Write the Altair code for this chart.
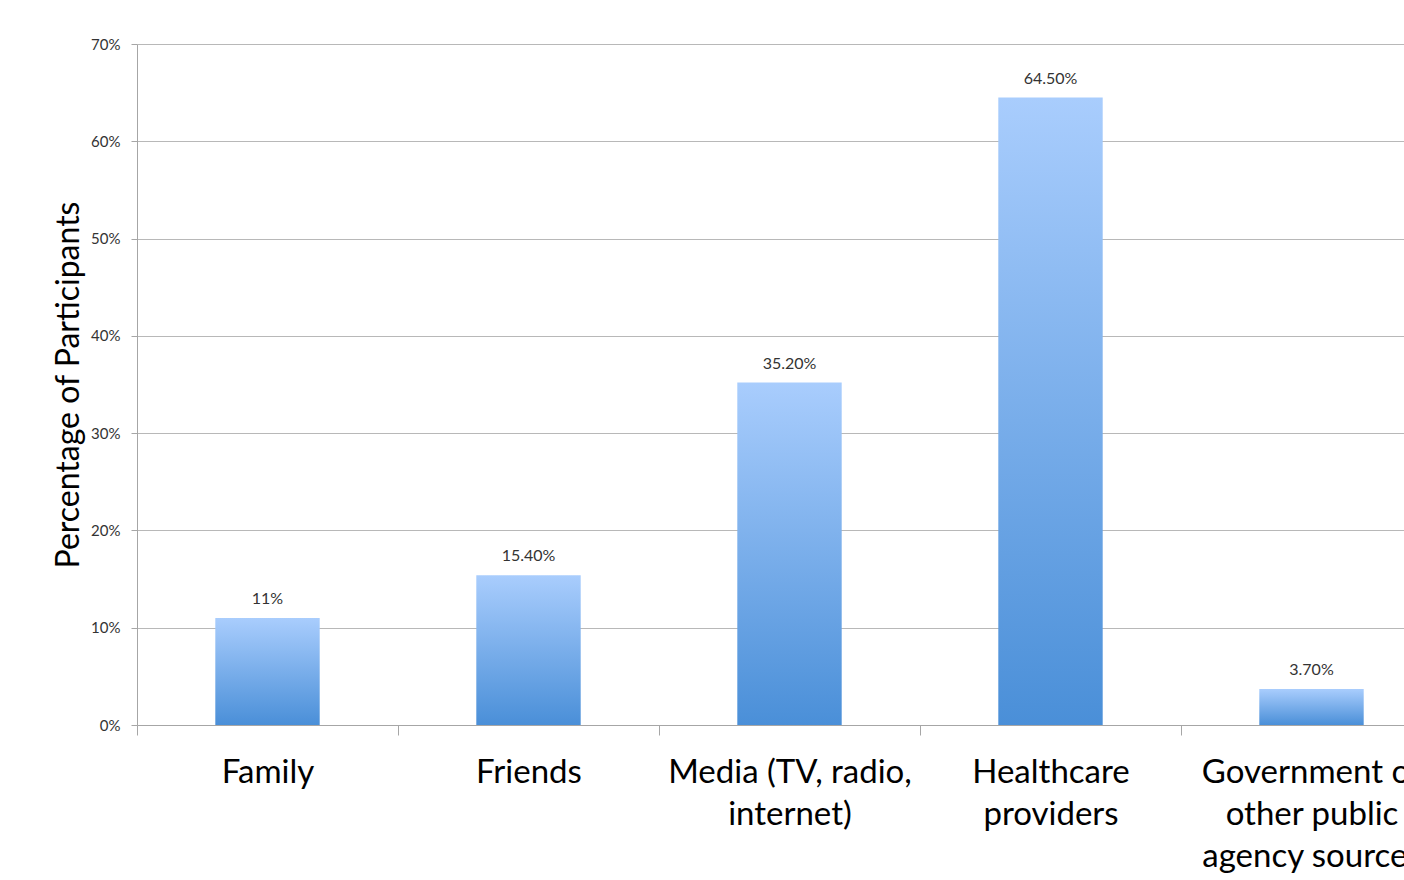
import altair as alt
import pandas as pd

categories = [
    "Family",
    "Friends",
    "Media (TV, radio,\ninternet)",
    "Healthcare\nproviders",
    "Government or\nother public\nagency sources",
]
values = [0.11, 0.154, 0.352, 0.645, 0.037]
value_labels = ["11%", "15.40%", "35.20%", "64.50%", "3.70%"]
y_ticks = [0, 0.1, 0.2, 0.3, 0.4, 0.5, 0.6, 0.7]

df = pd.DataFrame({"category": categories, "value": values, "label": value_labels})

FONT = "Lato"

x_enc = alt.X(
    "category:N",
    sort=categories,
    scale=alt.Scale(range=[0, 1305], paddingInner=0.6, paddingOuter=0.3),
    axis=alt.Axis(
        title=None,
        tickOffset=-130.5,
        labelOffset=130.5,
        tickSize=10,
        tickColor="#a6a6a6",
        domainColor="#a6a6a6",
        labelAngle=0,
        labelFont=FONT,
        labelFontSize=33,
        labelColor="#000000",
        labelLineHeight=42,
        labelPadding=21,
        labelLimit=500,
        labelOverlap=False,
        labelExpr="split(datum.label, '\\n')",
        grid=False,
    ),
)
y_enc = alt.Y(
    "value:Q",
    scale=alt.Scale(domain=[0, 0.7], nice=False),
    axis=alt.Axis(
        values=y_ticks,
        format=".0%",
        title="Percentage of Participants",
        titleFont=FONT,
        titleFontSize=32,
        titleFontWeight="normal",
        titleColor="#000000",
        titlePadding=5,
        labelFont=FONT,
        labelFontSize=15,
        labelColor="#333333",
        labelPadding=11,
        tickSize=6,
        tickColor="#a6a6a6",
        domainColor="#a6a6a6",
        gridColor="#b8b8b8",
    ),
)

base = alt.Chart(df).encode(x=x_enc, y=y_enc)

bars = base.mark_bar(
    color=alt.Gradient(
        gradient="linear",
        stops=[
            alt.GradientStop(color="#a9cdfd", offset=0),
            alt.GradientStop(color="#4a8fd8", offset=1),
        ],
        x1=0, x2=0, y1=0, y2=1,
    )
)

text = base.mark_text(
    baseline="bottom", dy=-11, fontSize=16, color="#333333", font=FONT
).encode(text="label:N")

chart = (
    alt.layer(bars, text)
    .properties(
        width=1267,
        height=681,
        autosize="none",
        padding={"left": 137, "top": 44, "right": 0, "bottom": 155},
        background="white",
    )
    .configure_view(stroke=None)
)

chart.save("out.html", embed_options={"renderer": "svg", "actions": False})
